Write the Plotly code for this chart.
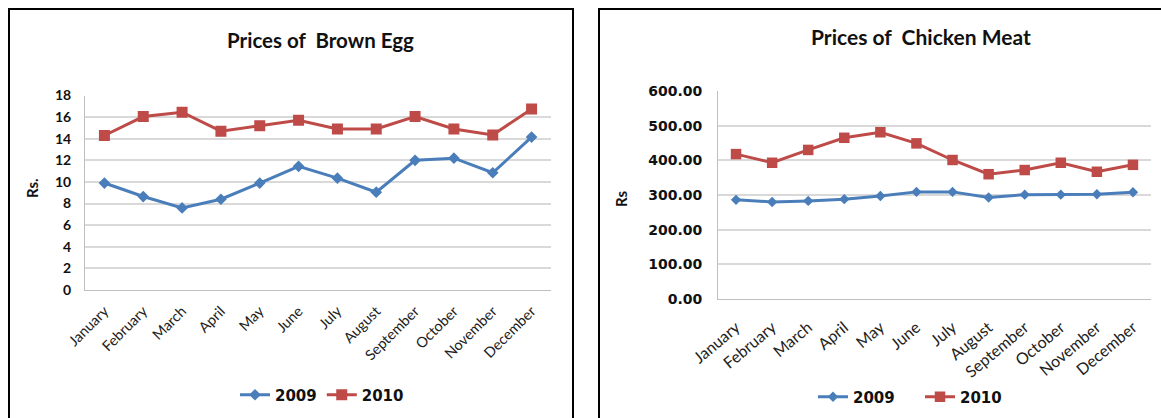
import plotly.graph_objects as go

months = ["January", "February", "March", "April", "May", "June", "July",
          "August", "September", "October", "November", "December"]
egg_2009 = [9.9, 8.65, 7.6, 8.4, 9.9, 11.45, 10.35, 9.05, 12.0, 12.2, 10.85, 14.15]
egg_2010 = [14.3, 16.05, 16.45, 14.7, 15.2, 15.7, 14.9, 14.9, 16.05, 14.9, 14.35, 16.75]
meat_2009 = [286, 280, 283, 288, 297, 309, 309, 293, 301, 301, 302, 308]
meat_2010 = [418, 393, 430, 465, 481, 449, 401, 360, 372, 393, 367, 387]
egg_ticks = list(range(0, 20, 2))
meat_ticks = [0, 100, 200, 300, 400, 500, 600]

W, H = 1161, 418
BLUE = "#4a7ebb"
RED = "#be4b48"
FONT = "Lato"
WIDE = "DejaVu Sans"

def px(x):
    return x / W

def py(y):
    return 1 - y / H

fig = go.Figure()

fig.add_trace(go.Scatter(x=months, y=egg_2009, name="2009", mode="lines+markers",
                         line=dict(color=BLUE, width=3),
                         marker=dict(symbol="diamond", size=9, color=BLUE),
                         xaxis="x", yaxis="y", legend="legend"))
fig.add_trace(go.Scatter(x=months, y=egg_2010, name="2010", mode="lines+markers",
                         line=dict(color=RED, width=3),
                         marker=dict(symbol="square", size=11, color=RED),
                         xaxis="x", yaxis="y", legend="legend"))
fig.add_trace(go.Scatter(x=months, y=meat_2009, name="2009", mode="lines+markers",
                         line=dict(color=BLUE, width=3),
                         marker=dict(symbol="diamond", size=8, color=BLUE),
                         xaxis="x2", yaxis="y2", legend="legend2"))
fig.add_trace(go.Scatter(x=months, y=meat_2010, name="2010", mode="lines+markers",
                         line=dict(color=RED, width=3),
                         marker=dict(symbol="square", size=10.5, color=RED),
                         xaxis="x2", yaxis="y2", legend="legend2"))

xcommon = dict(type="category", showgrid=False, showline=True,
               linecolor="#bfbfbf", linewidth=1, ticks="", fixedrange=True,
               range=[-0.5, 11.5], automargin=False)
ycommon = dict(showgrid=True, gridcolor="#d9d9d9", gridwidth=1.5, showline=True,
               linecolor="#bfbfbf", linewidth=1, ticks="", zeroline=False,
               automargin=False)

border = dict(color="black", width=2)

fig.update_layout(
    width=W, height=H,
    autosize=False,
    margin=dict(l=0, r=0, t=0, b=0, pad=0),
    paper_bgcolor="white", plot_bgcolor="white",
    showlegend=True,
    xaxis=dict(xcommon, domain=[px(85), px(551)], anchor="y",
               tickangle=-45, ticklabelstandoff=6,
               tickfont=dict(family=FONT, size=14.5, color="#222")),
    yaxis=dict(ycommon, domain=[py(290), py(95.5)], anchor="x",
               range=[0, 18], tickvals=egg_ticks,
               ticktext=[str(t) for t in egg_ticks], ticklabelstandoff=10,
               tickfont=dict(family=FONT, size=14, color="#111", weight="bold")),
    xaxis2=dict(xcommon, domain=[px(718), px(1151)], anchor="y2",
                tickangle=-40, ticklabelstandoff=12,
                tickfont=dict(family=FONT, size=16, color="#222")),
    yaxis2=dict(ycommon, domain=[py(299), py(91)], anchor="x2",
                range=[0, 600], tickvals=meat_ticks,
                ticktext=[f"{t:.2f}" for t in meat_ticks], ticklabelstandoff=12,
                tickfont=dict(family=WIDE, size=14, color="#111", weight="bold")),
    legend=dict(orientation="h", x=px(322), y=py(395), xanchor="center", yanchor="middle",
                font=dict(family=WIDE, size=15, color="#111", weight="bold"),
                bgcolor="rgba(0,0,0,0)", itemwidth=30, tracegroupgap=0),
    legend2=dict(orientation="h", x=px(920), y=py(397), xanchor="center", yanchor="middle",
                 font=dict(family=WIDE, size=15, color="#111", weight="bold"),
                 bgcolor="rgba(0,0,0,0)", itemwidth=30, tracegroupgap=0,
                 entrywidth=62, entrywidthmode="pixels"),
    shapes=[
        dict(type="path", xref="paper", yref="paper",
             path=f"M {px(9)},0 L {px(9)},{py(9)} L {px(573)},{py(9)} L {px(573)},0",
             line=border),
        dict(type="path", xref="paper", yref="paper",
             path=f"M {px(599)},0 L {px(599)},{py(9)} L 1,{py(9)}",
             line=border),
    ],
    annotations=[
        dict(text="Prices of  Brown Egg", xref="paper", yref="paper",
             x=px(320), y=py(40), showarrow=False, xanchor="center", yanchor="middle",
             font=dict(family=FONT, size=20.5, color="#111", weight="bold")),
        dict(text="Prices of  Chicken Meat", xref="paper", yref="paper",
             x=px(921), y=py(37), showarrow=False, xanchor="center", yanchor="middle",
             font=dict(family=FONT, size=21, color="#111", weight="bold")),
        dict(text="Rs.", xref="paper", yref="paper", x=px(32), y=py(188),
             showarrow=False, textangle=-90, xanchor="center", yanchor="middle",
             font=dict(family=FONT, size=15, color="#111", weight="bold")),
        dict(text="Rs", xref="paper", yref="paper", x=px(621), y=py(198),
             showarrow=False, textangle=-90, xanchor="center", yanchor="middle",
             font=dict(family=FONT, size=15, color="#111", weight="bold")),
    ],
)

fig.write_html("out.html",
               post_script="document.body.style.margin='0';"
                           "document.body.style.overflow='hidden';")
